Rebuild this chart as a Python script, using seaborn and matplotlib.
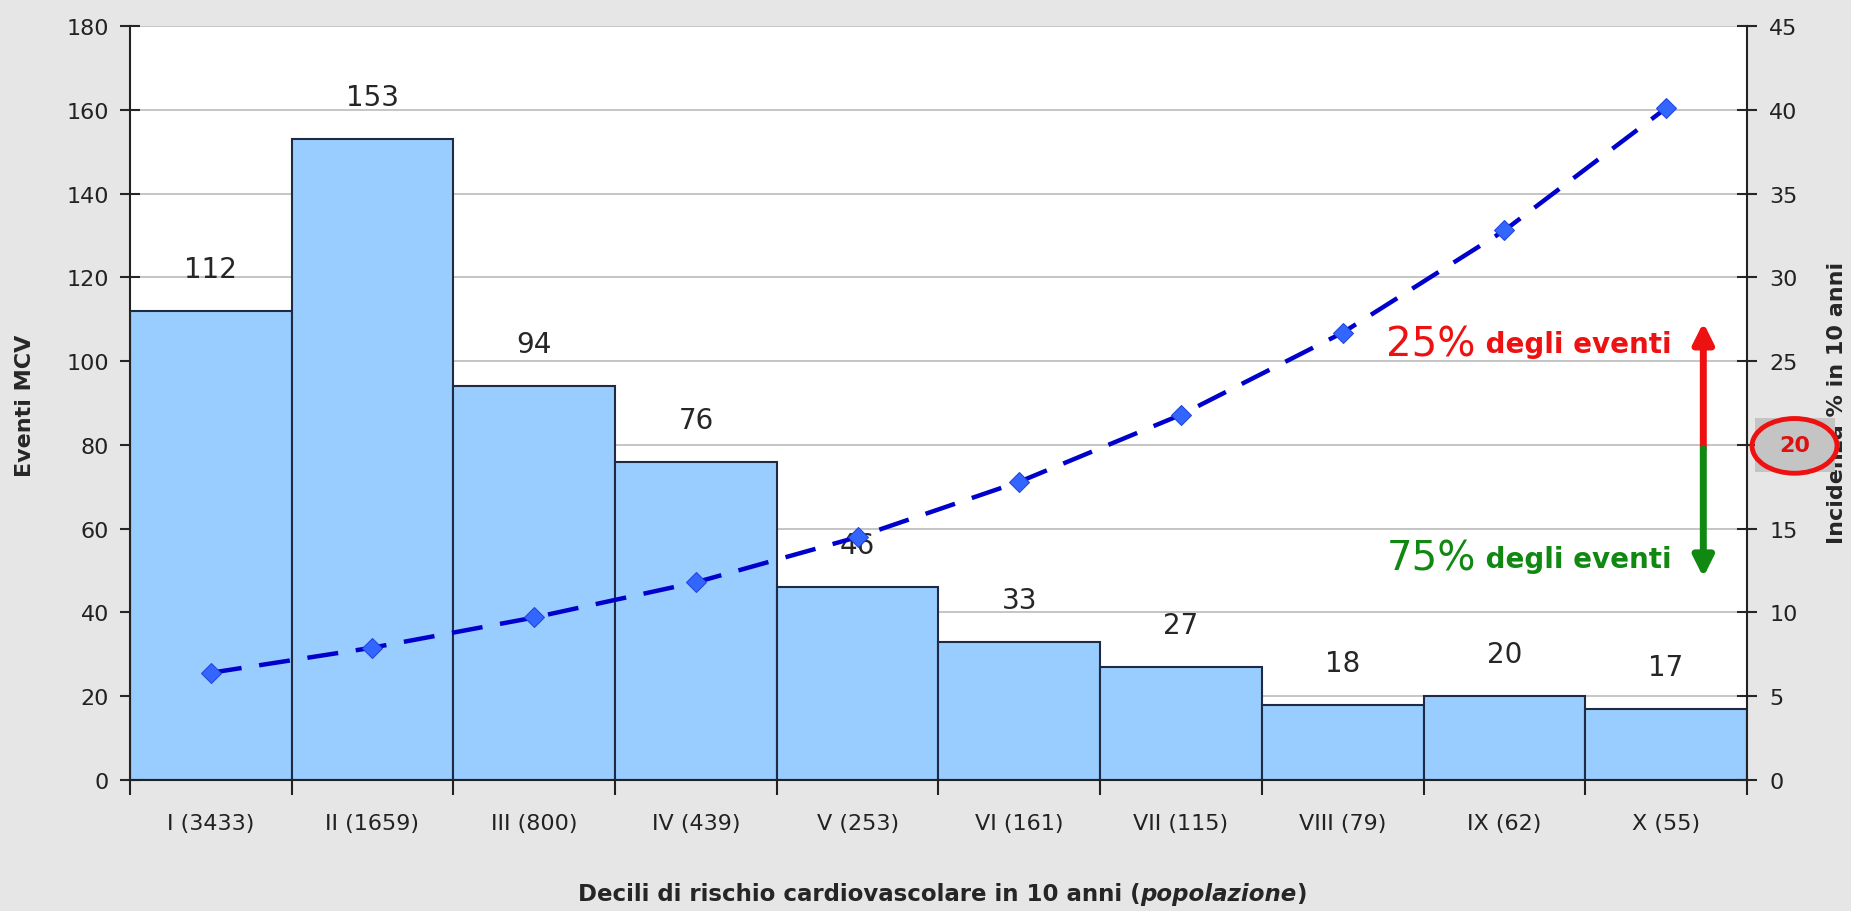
import numpy as np
import pandas as pd
import matplotlib.pyplot as plt
import matplotlib.patches as mpatches
import seaborn as sns

# dati
decili = ["I (3433)", "II (1659)", "III (800)", "IV (439)", "V (253)",
          "VI (161)", "VII (115)", "VIII (79)", "IX (62)", "X (55)"]
eventi = [112, 153, 94, 76, 46, 33, 27, 18, 20, 17]
incidenza = [6.4, 7.9, 9.7, 11.8, 14.5, 17.8, 21.8, 26.7, 32.8, 40.1]
tick_dx = list(range(0, 46, 5))

df = pd.DataFrame({"decile": decili, "eventi": eventi, "incidenza": incidenza})

sns.set_style("white")
plt.rcParams['font.family'] = ['DejaVu Sans']

fig = plt.figure(figsize=(18.51, 9.12), dpi=100, facecolor="#e6e6e6")
ax = fig.add_axes([0.0702, 0.1436, 0.8736, 0.8268])
ax.set_facecolor("white")

# barre
sns.barplot(data=df, x="decile", y="eventi", ax=ax, color="#99ccff",
            saturation=1, width=1.0, edgecolor="#1f2a44", linewidth=1.5, zorder=2)
ax.set_ylim(0, 180)
ax.set_xlim(-0.5, len(decili) - 0.5)
ax.set_yticks(range(0, 181, 20))
ax.yaxis.grid(True, color="#bbbbbb", linewidth=1.2, zorder=0)
ax.set_axisbelow(True)

# etichette sopra le barre
for i, v in enumerate(eventi):
    ax.text(i, v + 10, str(v), ha="center", va="center", fontsize=20, zorder=6)

# linea incidenza sull'asse destro
ax2 = ax.twinx()
sns.lineplot(data=df, x="decile", y="incidenza", ax=ax2, sort=False,
             color="#0000cc", linewidth=3.2, dashes=[(7, 4)], style=True,
             legend=False, zorder=5, marker="D", markersize=10,
             markerfacecolor="#3366ff", markeredgecolor="#2244dd")
ax2.set_ylim(0, 45)
ax2.set_yticks(tick_dx)
ax2.set_yticklabels(["" if t == 20 else str(t) for t in tick_dx])
ax2.set_xlim(-0.5, len(decili) - 0.5)

# assi e tick
for a in (ax, ax2):
    for s in a.spines.values():
        s.set_visible(False)
ax.spines["left"].set_visible(True)
ax.spines["bottom"].set_visible(True)
ax2.spines["right"].set_visible(True)
for s in (ax.spines["left"], ax.spines["bottom"], ax2.spines["right"]):
    s.set_color("#222222")
    s.set_linewidth(1.5)

ax.set_xlabel("")
ax.set_ylabel("")
ax2.set_ylabel("")
ax.tick_params(axis="y", direction="inout", length=14, width=1.5, pad=8,
               labelsize=16, labelcolor="#222222", left=True)
ax2.tick_params(axis="y", direction="inout", length=14, width=1.5, pad=9,
                labelsize=16, labelcolor="#222222", right=True)
ax.set_xticks(np.arange(len(decili)))
ax.set_xticklabels(decili)
ax.set_xticks(np.arange(len(decili) + 1) - 0.5, minor=True)
ax.tick_params(axis="x", which="major", length=0, pad=24, labelsize=16,
               labelcolor="#222222")
ax.tick_params(axis="x", which="minor", direction="out", length=11,
               width=1.5, color="#222222", bottom=True)

# titoli degli assi
fig.text(0.0135, 0.555, "Eventi MCV", rotation=90, ha="center", va="center",
         fontsize=16, fontweight="bold")
fig.text(0.9925, 0.558, "Incidenza % in 10 anni", rotation=90, ha="center",
         va="center", fontsize=16, fontweight="bold")

# "20" evidenziato sull'asse destro (sopra il titolo, come nell'originale)
fig.patches.append(mpatches.Rectangle((0.948, 0.481), 0.0432, 0.060,
                                      transform=fig.transFigure, facecolor="#c4c4c4",
                                      edgecolor="none", zorder=4))
fig.text(0.9695, 0.511, "20", color="#dd1111", fontsize=16, fontweight="bold",
         ha="center", va="center", zorder=5)
fig.patches.append(mpatches.Ellipse((0.9695, 0.510), 0.0459, 0.060,
                                    transform=fig.transFigure, facecolor="none",
                                    edgecolor="#ee1111", linewidth=3.5, zorder=6))

# frecce e testi
ax2.annotate("", xy=(9.23, 27.3), xytext=(9.23, 19.8),
             arrowprops=dict(arrowstyle="-|>,head_length=1.2,head_width=0.6",
                             color="#ee1111", lw=5, shrinkA=0, shrinkB=0), zorder=7)
ax2.annotate("", xy=(9.23, 12.1), xytext=(9.23, 19.8),
             arrowprops=dict(arrowstyle="-|>,head_length=1.2,head_width=0.6",
                             color="#118811", lw=5, shrinkA=0, shrinkB=0), zorder=7)

t1 = ax2.text(7.27, 26.0, "25%", color="#ee1111", fontsize=29, va="center", zorder=7)
ax2.annotate(" degli eventi", xy=(1, 0.3), xycoords=t1, color="#ee1111",
             fontsize=20, fontweight="bold", va="baseline", zorder=7)
t2 = ax2.text(7.27, 13.2, "75%", color="#118811", fontsize=29, va="center", zorder=7)
ax2.annotate(" degli eventi", xy=(1, 0.3), xycoords=t2, color="#118811",
             fontsize=20, fontweight="bold", va="baseline", zorder=7)

# titolo asse x con "popolazione" in corsivo
xl = fig.text(0.312, 0.012, "Decili di rischio cardiovascolare in 10 anni (",
              ha="left", va="baseline", fontsize=16.5, fontweight="bold")
fig.canvas.draw()
bb = xl.get_window_extent()
xl2 = fig.text(bb.x1 / fig.bbox.width, 0.012, "popolazione", fontsize=16.5,
               fontweight="bold", style="italic", va="baseline")
fig.canvas.draw()
bb2 = xl2.get_window_extent()
fig.text(bb2.x1 / fig.bbox.width, 0.012, ")", fontsize=16.5, fontweight="bold",
         va="baseline")

plt.savefig("out.png", dpi=100, facecolor=fig.get_facecolor())
